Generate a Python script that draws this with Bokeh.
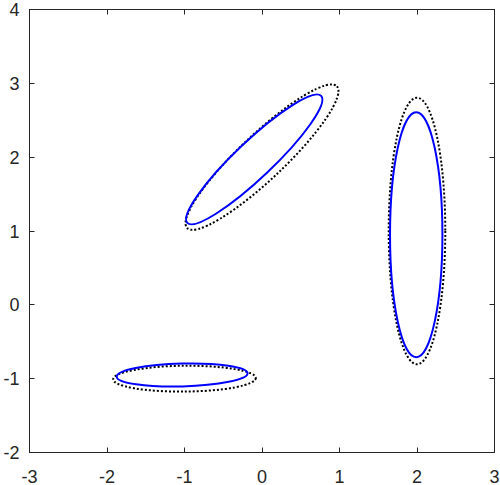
from bokeh.plotting import figure
from bokeh.models import Range1d, FixedTicker, LinearAxis
from bokeh.embed import file_html
from bokeh.resources import INLINE

# Tick values and labels
x_ticks = [-3, -2, -1, 0, 1, 2, 3]
x_labels = ["-3", "-2", "-1", "0", "1", "2", "3"]
y_ticks = [-2, -1, 0, 1, 2, 3, 4]
y_labels = ["-2", "-1", "0", "1", "2", "3", "4"]

# Reference (dotted black) ellipses: centre, full width, full height, angle (deg)
ref_x = [-1.0, 0.0, 2.0]
ref_y = [-1.0, 2.0, 1.0]
ref_w = [1.84, 2.66, 0.73]
ref_h = [0.35, 0.61, 3.61]
ref_angle = [0.5, 43.4, 0.0]

# Estimated (solid blue) ellipses
est_x = [-1.03, -0.10, 1.99]
est_y = [-0.95, 1.97, 0.95]
est_w = [1.69, 2.38, 0.676]
est_h = [0.31, 0.50, 3.32]
est_angle = [1.5, 43.5, 0.0]

AX = "#262626"
FONT = "Liberation Sans"

p = figure(frame_width=465, frame_height=443,
           x_range=Range1d(-3, 3), y_range=Range1d(-2, 4),
           output_backend="svg", toolbar_location=None,
           min_border_top=9, min_border_right=6, min_border_left=28,
           min_border_bottom=0)
p.grid.visible = False
p.outline_line_color = AX
p.background_fill_color = "white"
p.border_fill_color = "white"

p.ellipse(x=ref_x, y=ref_y, width=ref_w, height=ref_h, angle=ref_angle,
          angle_units="deg", fill_color=None, line_color="black",
          line_width=2, line_dash="2 2")
p.ellipse(x=est_x, y=est_y, width=est_w, height=est_h, angle=est_angle,
          angle_units="deg", fill_color=None, line_color="#0000ff",
          line_width=2)


def style(ax, ticks, labels=None, standoff=6):
    ax.ticker = FixedTicker(ticks=ticks)
    ax.minor_tick_line_color = None
    ax.major_tick_in = 5
    ax.major_tick_out = 0
    ax.major_tick_line_color = AX
    ax.axis_line_color = AX
    if labels is not None:
        ax.major_label_overrides = {t: s for t, s in zip(ticks, labels)}
        ax.major_label_text_font = FONT
        ax.major_label_text_font_size = "18px"
        ax.major_label_text_color = AX
        ax.major_label_standoff = standoff
    else:
        ax.major_label_overrides = {t: "" for t in ticks}
        ax.major_label_standoff = 0


style(p.xaxis[0], x_ticks, x_labels, standoff=17)
style(p.yaxis[0], y_ticks, y_labels, standoff=10)

top = LinearAxis()
style(top, x_ticks)
p.add_layout(top, "above")
right = LinearAxis()
style(right, y_ticks)
p.add_layout(right, "right")

open("out.html", "w").write(file_html(p, INLINE))
